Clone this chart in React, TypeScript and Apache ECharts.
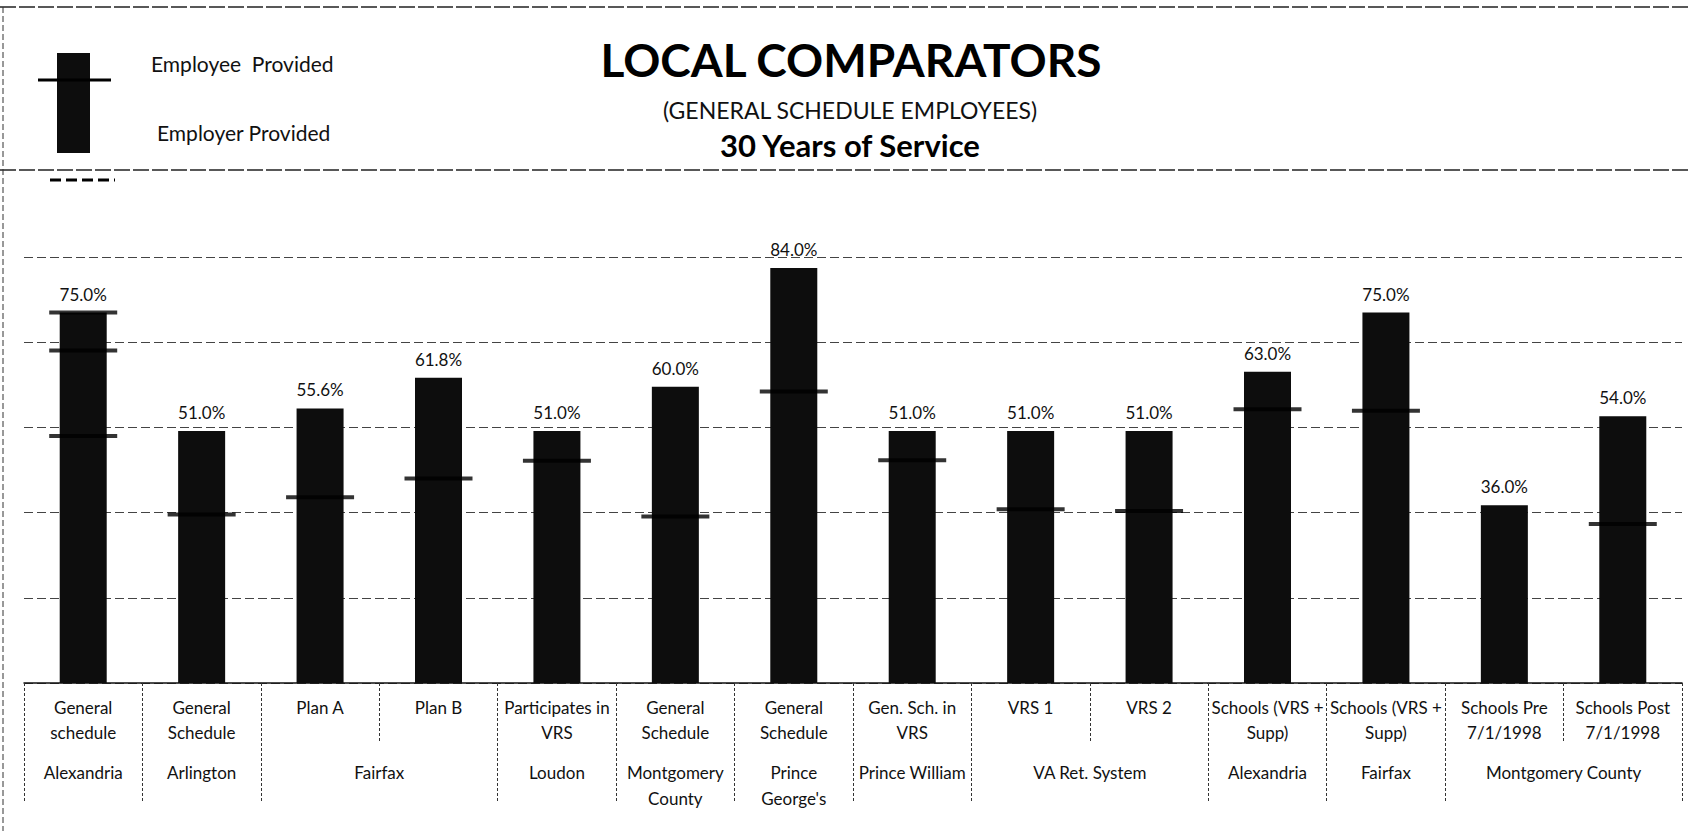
import React, { useEffect, useRef } from "react";
import * as echarts from "echarts";

// ---- data ----
const categories = [
  "General\nschedule",
  "General\nSchedule",
  "Plan A",
  "Plan B",
  "Participates in\nVRS",
  "General\nSchedule",
  "General\nSchedule",
  "Gen. Sch. in\nVRS",
  "VRS 1",
  "VRS 2",
  "Schools (VRS +\nSupp)",
  "Schools (VRS +\nSupp)",
  "Schools Pre\n7/1/1998",
  "Schools Post\n7/1/1998",
];
const totalBenefit = [75.0, 51.0, 55.6, 61.8, 51.0, 60.0, 84.0, 51.0, 51.0, 51.0, 63.0, 75.0, 36.0, 54.0];
const employerProvided = [50.0, 34.1, 37.6, 41.4, 45.0, 33.7, 59.0, 45.1, 35.2, 34.8, 55.4, 55.1, null, 32.2];
const alexandriaExtraMarks = [75.0, 67.3];
const groups = [
  "Alexandria",
  "Arlington",
  "Fairfax",
  "Loudon",
  "Montgomery\nCounty",
  "Prince\nGeorge's",
  "Prince William",
  "VA Ret. System",
  "Alexandria",
  "Fairfax",
  "Montgomery County",
];
const groupSpans = [1, 1, 2, 1, 1, 1, 1, 2, 1, 1, 2];
const yTicks = [0, 17.25, 34.5, 51.75, 69, 86.25];

const FONT = "Lato, 'Open Sans', sans-serif";

export default function App() {
  const ref = useRef<HTMLDivElement>(null);
  useEffect(() => {
    if (!ref.current) return;
    const chart = echarts.init(ref.current, undefined, { renderer: "svg" });

    const groupCenters: number[] = [];
    const groupBounds: number[] = [0];
    let acc = 0;
    groupSpans.forEach((s) => {
      groupCenters.push(acc + s / 2);
      acc += s;
      groupBounds.push(acc);
    });
    const groupLabelAt = (v: number) => {
      const i = groupCenters.findIndex((c) => Math.abs(c - v) < 1e-6);
      return i >= 0 ? groups[i] : "";
    };

    const option: any = {
      animation: false,
      backgroundColor: "#fff",
      grid: { left: 24, right: 8, top: 257, bottom: 148, containLabel: false },
      xAxis: [
        {
          type: "category",
          data: categories,
          position: "bottom",
          axisLine: { show: true, lineStyle: { color: "#111", width: 1.5 } },
          axisTick: {
            show: true,
            interval: 0,
            alignWithLabel: false,
            length: 60,
            lineStyle: { color: "#333", width: 1, type: [3, 2] },
          },
          axisLabel: {
            interval: 0,
            margin: 12,
            fontSize: 17,
            lineHeight: 25,
            fontFamily: FONT,
            color: "#111",
          },
          splitLine: { show: false },
        },
        {
          type: "value",
          min: 0,
          max: categories.length,
          position: "bottom",
          axisLine: { show: false },
          splitLine: { show: false },
          axisTick: {
            show: true,
            customValues: groupBounds,
            length: 120,
            lineStyle: { color: "#333", width: 1, type: [3, 2] },
          },
          axisLabel: {
            show: true,
            customValues: groupCenters,
            formatter: (v: number) => groupLabelAt(v),
            margin: 76,
            fontSize: 17,
            lineHeight: 26,
            fontFamily: FONT,
            color: "#111",
            showMinLabel: true,
            showMaxLabel: true,
          },
        },
      ],
      yAxis: {
        type: "value",
        min: yTicks[0],
        max: yTicks[yTicks.length - 1],
        interval: yTicks[1] - yTicks[0],
        axisLine: { show: false },
        axisTick: { show: false },
        axisLabel: { show: false },
        splitLine: { show: true, lineStyle: { color: "#444", width: 1, type: [9, 4] } },
      },
      series: [
        {
          type: "bar",
          name: "Total",
          data: totalBenefit,
          barWidth: 47,
          itemStyle: { color: "#0d0d0d" },
          label: {
            show: true,
            position: "top",
            distance: 10,
            formatter: (p: any) => p.value.toFixed(1) + "%",
            fontSize: 17,
            fontFamily: FONT,
            color: "#111",
          },
          z: 2,
        },
        {
          type: "scatter",
          name: "Employer Provided",
          data: employerProvided.map((v, i) => (v == null ? null : [i, v])).filter((d) => d),
          symbol: "rect",
          symbolSize: [68, 4],
          itemStyle: { color: "#000" },
          z: 3,
        },
        {
          type: "scatter",
          name: "Other",
          data: alexandriaExtraMarks.map((v) => [0, v]),
          symbol: "rect",
          symbolSize: [68, 4],
          itemStyle: { color: "#000" },
          z: 3,
        },
      ],
      graphic: [
        { type: "line", shape: { x1: 0, y1: 7, x2: 1690, y2: 7 }, style: { stroke: "#222", lineWidth: 1.5, lineDash: [16, 3] } },
        { type: "line", shape: { x1: 0, y1: 170, x2: 1690, y2: 170 }, style: { stroke: "#222", lineWidth: 1.5, lineDash: [16, 3] } },
        { type: "line", shape: { x1: 3, y1: 7, x2: 3, y2: 831 }, style: { stroke: "#333", lineWidth: 1, lineDash: [6, 3] } },
        { type: "rect", shape: { x: 57, y: 53, width: 33, height: 100 }, style: { fill: "#0d0d0d" } },
        { type: "line", shape: { x1: 38, y1: 80, x2: 111, y2: 80 }, style: { stroke: "#000", lineWidth: 3 } },
        { type: "line", shape: { x1: 50, y1: 180, x2: 115, y2: 180 }, style: { stroke: "#000", lineWidth: 3, lineDash: [11, 5] } },
        {
          type: "text",
          style: { text: "Employee  Provided", x: 151, y: 63, textVerticalAlign: "middle", font: `21px ${FONT}`, fill: "#111" },
        },
        {
          type: "text",
          style: { text: "Employer Provided", x: 157, y: 132, textVerticalAlign: "middle", font: `21px ${FONT}`, fill: "#111" },
        },
        {
          type: "text",
          style: { text: "LOCAL COMPARATORS", x: 851, y: 59, textAlign: "center", textVerticalAlign: "middle", font: `bold 46px ${FONT}`, fill: "#000" },
        },
        {
          type: "text",
          style: { text: "(GENERAL SCHEDULE EMPLOYEES)", x: 850, y: 110, textAlign: "center", textVerticalAlign: "middle", font: `23px ${FONT}`, fill: "#111" },
        },
        {
          type: "text",
          style: { text: "30 Years of Service", x: 850, y: 145, textAlign: "center", textVerticalAlign: "middle", font: `bold 31px ${FONT}`, fill: "#000" },
        },
      ],
    };
    chart.setOption(option);
    return () => chart.dispose();
  }, []);
  return (
    <div
      ref={ref}
      style={{ position: "absolute", left: 0, top: 0, width: 1690, height: 831, background: "#fff" }}
    />
  );
}
